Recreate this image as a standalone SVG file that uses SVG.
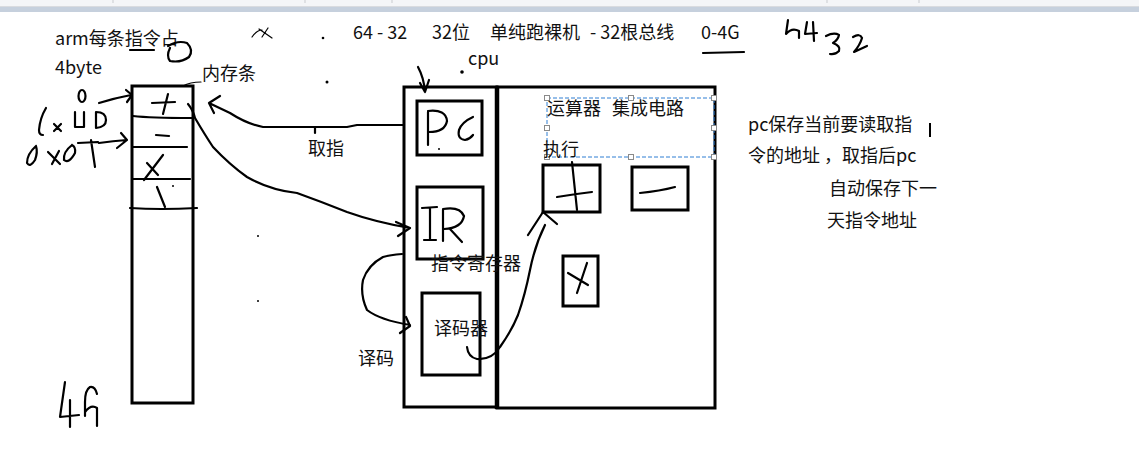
<svg xmlns="http://www.w3.org/2000/svg" width="1139" height="468" viewBox="0 0 1139 468">
<style>
.h{fill:none;stroke:#000;stroke-width:2.2;stroke-linecap:round;stroke-linejoin:round}
.thin{fill:none;stroke:#000;stroke-width:1.2;stroke-linecap:round}
.box{fill:none;stroke:#000;stroke-width:3}
.t{font-family:"Noto Sans CJK SC","Noto Sans",sans-serif;font-size:18px;fill:#111}
.hd{fill:#fff;stroke:#8a8a8a;stroke-width:1}
.sep{stroke:#c9cbcf;stroke-width:1}
</style>
<rect x="0" y="0" width="1139" height="468" fill="#fff"/>
<!-- toolbar strip -->
<rect x="0" y="0" width="1139" height="6" fill="#f4f5f7"/>
<rect x="0" y="6" width="1139" height="1" fill="#d9dbdf"/>
<rect x="0" y="7" width="1139" height="5" fill="#c6d0dd"/>
<g class="sep"><line x1="113" y1="0" x2="113" y2="3"/><line x1="305" y1="0" x2="305" y2="3"/><line x1="392" y1="0" x2="392" y2="3"/><line x1="827" y1="0" x2="827" y2="3"/><line x1="919" y1="0" x2="919" y2="3"/></g>

<!-- header texts -->
<g id="notes-top">
<text class="t" x="55" y="45">arm每条指令占</text>
<text class="t" x="55" y="74">4byte</text>
<text class="t" x="353" y="39">64 - 32</text>
<text class="t" x="432" y="39">32位</text>
<text class="t" x="490" y="39">单纯跑裸机</text>
<text class="t" x="590" y="39">- 32根总线</text>
<text class="t" x="701" y="39">0-4G</text>
<path class="h" d="M703,53 L744,52"/>
<path class="h" d="M130,50 L154,50 M168,46 Q178,40 187,43 Q194,50 189,57 Q181,63 170,61 Q166,56 170,48"/>
<path class="thin" d="M252,37 Q257,30 262,30 M259,29 L272,38 M268,28 L262,37"/>
<path class="h" d="M788,20 L786,34 Q792,27 799,31 L799,38 M807,22 L805,34 L817,33 M813,22 L814,41"/>
<path class="h" d="M826,36 Q834,32 839,35 Q838,40 833,43 Q841,46 839,51 Q835,55 830,54 M853,37 Q860,33 862,38 Q860,45 854,52 L867,46"/>
<circle cx="323" cy="38" r="1.3"/>
<circle cx="327" cy="82" r="1.5"/>
<circle cx="462" cy="72" r="1.8"/>
<circle cx="258" cy="236" r="1"/>
<circle cx="258" cy="301" r="1"/>
</g>

<!-- memory bar -->
<g id="memory">
<rect class="box" x="132" y="86" width="61" height="317"/>
<text class="t" x="202" y="80">内存条</text>
<path class="thin" d="M183,86 Q190,82 201,82"/>
<path class="h" d="M133,116 Q150,118 192,118 M133,147 L187,147 M133,179 L190,179 M130,208 Q160,210 197,208"/>
<path class="h" d="M152,103 L175,102 M168,94 L163,114"/>
<path class="h" d="M156,135 L169,136"/>
<path class="h" d="M144,180 L163,155 M147,163 L158,175"/>
<path class="h" d="M157,187 L165,207"/>
<circle cx="173" cy="186" r="1"/>
</g>

<!-- left address labels -->
<g id="addr-labels">
<ellipse class="h" cx="82" cy="96" rx="3.5" ry="6"/>
<path class="h" d="M99,103 Q115,98 131,95 M126,90 L132,95 L127,102"/>
<path class="h" d="M46,108 Q40,118 39,130 Q39,135 43,135 M54,124 L61,131 M61,124 L54,131 M75,112 L75,127 L84,127 L84,112 M96,112 L96,128 Q106,127 106,120 Q106,112 96,112"/>
<path class="h" d="M36,146 Q27,154 27,163 Q30,168 35,160 Q38,152 36,146 M48,152 L60,164 M59,151 L52,164 M72,145 Q63,152 64,160 Q69,164 75,153 Q76,147 72,145 M78,143 L98,142 M91,140 L95,167 M99,143 Q113,141 127,140 M121,133 L127,140 L117,148"/>
<path class="h" d="M65,382 L60,417 L79,415 M70,400 L70,427 M97,394 Q95,386 90,387 Q85,390 85,402 L85,416 M85,412 Q91,404 97,408 L97,426"/>
</g>

<!-- CPU -->
<g id="cpu">
<text class="t" x="468" y="65">cpu</text>
<rect class="box" x="404" y="87" width="93" height="320"/>
<rect class="box" x="497" y="87" width="218" height="321"/>
<line x1="497" y1="86" x2="497" y2="409" stroke="#000" stroke-width="4.5"/>
</g>

<g id="pc">
<rect class="box" x="417" y="101" width="65" height="54"/>
<path class="h" d="M428,112 L428,145 M428,111 Q446,109 447,121 Q445,132 429,132 M473,117 Q462,122 459,130 Q457,139 465,140 Q470,139 473,135"/>
<circle cx="439" cy="149" r="1"/>
</g>

<g id="ir">
<rect class="box" x="417" y="187" width="66" height="72"/>
<path class="h" d="M422,208 L437,207 M430,208 L430,240 M424,240 L436,240 M443,210 L443,241 M443,209 Q460,206 464,216 Q462,228 444,229 M450,229 L462,242"/>
<text class="t" x="431" y="270">指令寄存器</text>
</g>

<g id="decoder">
<rect class="box" x="422" y="293" width="58" height="82"/>
<text class="t" x="434" y="335">译码器</text>
</g>

<g id="alu">
<rect x="547" y="98" width="167" height="59" fill="none" stroke="#2f7fd3" stroke-width="1" stroke-dasharray="4,2"/>
<g class="hd">
<rect x="544.5" y="95.5" width="5" height="5"/><rect x="628.5" y="95.5" width="5" height="5"/><rect x="711.5" y="95.5" width="5" height="5"/>
<rect x="544.5" y="125.5" width="5" height="5"/><rect x="711.5" y="125.5" width="5" height="5"/>
<rect x="544.5" y="154.5" width="5" height="5"/><rect x="628.5" y="154.5" width="5" height="5"/><rect x="711.5" y="154.5" width="5" height="5"/>
</g>
<text class="t" x="547" y="115">运算器</text>
<text class="t" x="612" y="115">集成电路</text>
<text class="t" x="543" y="156">执行</text>
</g>

<g id="alu-add">
<rect class="box" x="543" y="165" width="57" height="47"/>
<path class="h" d="M557,197 Q575,194 592,192 M572,162 L577,210"/>
</g>
<g id="alu-sub">
<rect class="box" x="632" y="167" width="56" height="43"/>
<path class="h" d="M640,193 Q660,191 675,187"/>
</g>
<g id="alu-mul">
<rect class="box" x="563" y="256" width="35" height="50"/>
<path class="h" d="M568,273 L588,285 M587,263 L577,293"/>
</g>

<!-- right notes -->
<g id="notes-right">
<text class="t" x="748" y="131">pc保存当前要读取指</text>
<text class="t" x="748" y="162">令的地址 ，取指后pc</text>
<text class="t" x="829" y="195">自动保存下一</text>
<text class="t" x="827" y="227">天指令地址</text>
<line x1="930" y1="123" x2="930" y2="137" stroke="#000" stroke-width="2"/>
<text class="t" x="308" y="155">取指</text>
<text class="t" x="358" y="365">译码</text>
</g>

<!-- connectors -->
<g id="connectors">
<path class="h" d="M403,125 L357,125 L347,127 L263,127 Q247,124 230,113 L209,103 M220,96 L209,103 L214,113"/>
<path class="h" d="M315,127 L315,133"/>
<path class="h" d="M418,67 Q424,78 425,92 M420,83 L425,92 L429,80"/>
<path class="h" d="M188,104 Q193,110 195,118 Q205,135 213,147 Q230,165 247,177 Q270,190 297,193 Q322,202 347,212 Q375,222 410,228 M396,222 L410,228 L398,236"/>
<path class="h" d="M402,254 Q390,255 383,257 Q368,265 363,280 Q360,295 367,310 Q380,320 410,325 M406,317 L410,326 L400,333"/>
<path class="h" d="M467,347 Q468,357 477,359 Q492,360 500,347 Q512,330 518,315 Q525,295 530,270 Q535,245 545,225 M528,235 L543,212 L557,224"/>
</g>
</svg>
